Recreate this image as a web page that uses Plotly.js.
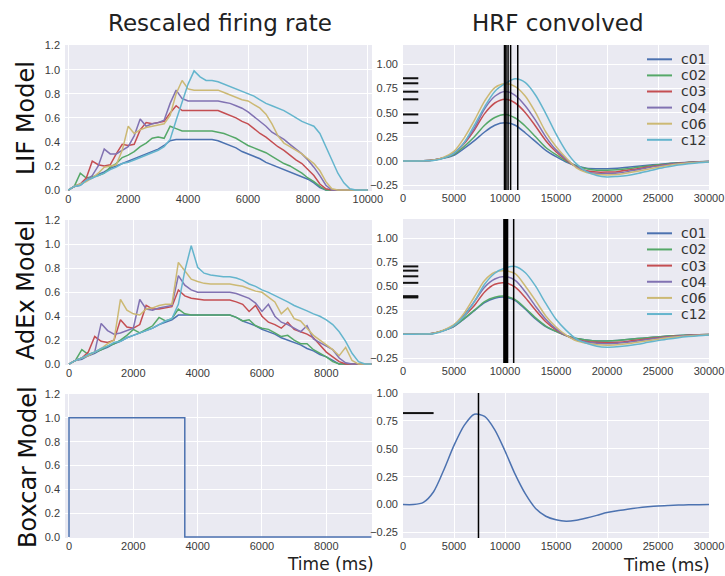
<!DOCTYPE html>
<html>
<head>
<meta charset="utf-8">
<script src="https://cdn.plot.ly/plotly-3.0.1.min.js"></script>
<style>html,body{margin:0;padding:0;background:#fff}#chart{width:725px;height:576px}</style>
</head>
<body>
<div id="chart"></div>
<script>
// ---------------- data ----------------
const seriesNames = ['c01','c02','c03','c04','c06','c12'];
const seriesColors = ['#4C72B0','#55A868','#C44E52','#8172B2','#CCB974','#64B5CD'];

// LIF rescaled firing rate (time in ms)
const lifTime = [0,200,400,600,800,1000,1200,1400,1600,1800,2000,2200,2400,2600,2800,3000,3200,3400,3600,3800,4000,4200,4400,4600,4800,5000,5200,5400,5600,5800,6000,6200,6400,6600,6800,7000,7200,7400,7600,7800,8000,8200,8400,8600,8800,9000,9200,9400,9600,9800,10000];
const lifC01 = [0,0.03,0.04,0.08,0.10,0.13,0.15,0.18,0.20,0.22,0.24,0.26,0.28,0.30,0.32,0.34,0.37,0.41,0.42,0.42,0.42,0.42,0.42,0.42,0.42,0.41,0.39,0.37,0.35,0.32,0.30,0.28,0.26,0.23,0.21,0.19,0.17,0.15,0.13,0.11,0.09,0.06,0.02,0,0,0,0,0,0,0,0];
const lifC02 = [0,0.03,0.14,0.10,0.11,0.12,0.14,0.19,0.22,0.27,0.29,0.32,0.36,0.39,0.43,0.44,0.43,0.53,0.51,0.49,0.49,0.49,0.49,0.49,0.49,0.48,0.47,0.45,0.43,0.40,0.37,0.35,0.33,0.31,0.28,0.25,0.22,0.20,0.17,0.14,0.10,0.07,0.03,0,0,0,0,0,0,0,0];
const lifC03 = [0,0.03,0.05,0.10,0.24,0.21,0.20,0.21,0.30,0.38,0.37,0.38,0.50,0.56,0.55,0.56,0.57,0.64,0.70,0.66,0.66,0.66,0.66,0.66,0.66,0.66,0.64,0.62,0.60,0.57,0.55,0.51,0.47,0.44,0.40,0.36,0.33,0.29,0.25,0.22,0.17,0.12,0.05,0.01,0,0,0,0,0,0,0];
const lifC04 = [0,0.03,0.05,0.08,0.12,0.20,0.34,0.30,0.30,0.33,0.36,0.45,0.59,0.53,0.55,0.56,0.58,0.72,0.83,0.76,0.74,0.74,0.74,0.74,0.74,0.74,0.73,0.72,0.70,0.68,0.65,0.61,0.57,0.53,0.48,0.45,0.42,0.38,0.34,0.30,0.25,0.19,0.12,0.04,0,0,0,0,0,0,0];
const lifC06 = [0,0.03,0.05,0.07,0.10,0.14,0.19,0.20,0.21,0.33,0.53,0.47,0.50,0.52,0.53,0.54,0.55,0.62,0.80,0.91,0.84,0.83,0.83,0.83,0.83,0.83,0.81,0.79,0.77,0.75,0.74,0.71,0.68,0.63,0.55,0.45,0.39,0.36,0.33,0.30,0.26,0.22,0.16,0.07,0.01,0,0,0,0,0,0];
const lifC12 = [0,0.03,0.04,0.08,0.10,0.12,0.14,0.17,0.19,0.22,0.23,0.25,0.27,0.29,0.31,0.33,0.36,0.42,0.58,0.74,0.88,0.99,0.94,0.91,0.91,0.90,0.88,0.86,0.84,0.82,0.80,0.78,0.75,0.72,0.70,0.68,0.66,0.63,0.60,0.57,0.55,0.53,0.47,0.36,0.25,0.14,0.06,0.01,0,0,0];

// AdEx rescaled firing rate
const adexTime = [0,200,400,600,800,1000,1200,1400,1600,1800,2000,2200,2400,2600,2800,3000,3200,3400,3600,3800,4000,4200,4400,4600,4800,5000,5200,5400,5600,5800,6000,6200,6400,6600,6800,7000,7200,7400,7600,7800,8000,8200,8400,8600,8800,9000,9200,9400];
const adexC01 = [0,0.03,0.04,0.07,0.09,0.12,0.14,0.17,0.19,0.22,0.24,0.26,0.28,0.30,0.33,0.35,0.37,0.41,0.41,0.41,0.41,0.41,0.41,0.41,0.41,0.41,0.39,0.36,0.34,0.32,0.29,0.27,0.25,0.22,0.20,0.18,0.16,0.13,0.11,0.08,0.06,0.03,0,0,0,0,0,0];
const adexC02 = [0,0.03,0.12,0.08,0.10,0.12,0.15,0.17,0.20,0.24,0.29,0.26,0.29,0.32,0.39,0.36,0.38,0.46,0.42,0.41,0.41,0.41,0.41,0.41,0.41,0.41,0.39,0.36,0.37,0.32,0.30,0.29,0.26,0.23,0.24,0.20,0.17,0.17,0.12,0.09,0.06,0.02,0,0,0,0,0,0];
const adexC03 = [0,0.03,0.05,0.10,0.23,0.19,0.18,0.20,0.37,0.31,0.30,0.33,0.49,0.46,0.46,0.47,0.48,0.62,0.57,0.55,0.54,0.535,0.535,0.535,0.535,0.535,0.52,0.50,0.44,0.49,0.40,0.35,0.33,0.30,0.35,0.29,0.27,0.25,0.22,0.16,0.10,0.06,0.02,0,0,0,0,0];
const adexC04 = [0,0.03,0.05,0.07,0.10,0.34,0.28,0.25,0.26,0.28,0.30,0.54,0.46,0.45,0.47,0.48,0.49,0.74,0.66,0.62,0.60,0.60,0.60,0.60,0.60,0.60,0.59,0.57,0.55,0.51,0.44,0.50,0.40,0.35,0.33,0.30,0.27,0.32,0.21,0.18,0.15,0.12,0.05,0.01,0,0,0,0];
const adexC06 = [0,0.03,0.05,0.07,0.10,0.13,0.17,0.20,0.54,0.45,0.42,0.41,0.46,0.47,0.49,0.50,0.50,0.85,0.78,0.71,0.69,0.675,0.67,0.67,0.67,0.67,0.66,0.65,0.63,0.61,0.60,0.56,0.52,0.42,0.47,0.38,0.36,0.30,0.24,0.20,0.16,0.12,0.07,0.14,0.03,0,0,0];
const adexC12 = [0,0.03,0.05,0.08,0.10,0.13,0.15,0.18,0.19,0.22,0.24,0.26,0.28,0.30,0.33,0.36,0.38,0.50,0.78,0.99,0.81,0.76,0.745,0.735,0.73,0.73,0.72,0.70,0.67,0.65,0.62,0.60,0.575,0.55,0.52,0.49,0.47,0.445,0.42,0.40,0.37,0.33,0.27,0.19,0.09,0.02,0,0];

// Boxcar model
const boxTime = [0,0,3600,3600,9400];
const boxRate = [0,1,1,0,0];

// HRF-convolved signals
const hrfTime = [0,1000,2000,3000,4000,5000,6000,7000,8000,9000,10000,11000,12000,13000,14000,15000,16000,17000,18000,19000,20000,21000,22000,23000,24000,25000,26000,27000,28000,29000,30000];
const lifHrfC01 = [0,0,0.002,0.01,0.03,0.06,0.13,0.21,0.30,0.37,0.395,0.37,0.29,0.20,0.11,0.045,-0.01,-0.05,-0.075,-0.08,-0.08,-0.075,-0.065,-0.055,-0.045,-0.035,-0.025,-0.018,-0.012,-0.008,-0.005];
const lifHrfC02 = [0,0,0.002,0.01,0.03,0.07,0.15,0.25,0.37,0.45,0.48,0.445,0.36,0.25,0.14,0.065,0,-0.05,-0.08,-0.095,-0.095,-0.09,-0.08,-0.065,-0.052,-0.04,-0.03,-0.02,-0.014,-0.009,-0.005];
const lifHrfC03 = [0,0,0.002,0.01,0.035,0.08,0.18,0.32,0.49,0.60,0.64,0.60,0.50,0.36,0.21,0.095,0.01,-0.06,-0.10,-0.115,-0.115,-0.11,-0.095,-0.08,-0.062,-0.048,-0.035,-0.024,-0.016,-0.01,-0.006];
const lifHrfC04 = [0,0,0.002,0.01,0.035,0.085,0.19,0.34,0.54,0.67,0.72,0.68,0.57,0.42,0.25,0.115,0.02,-0.06,-0.11,-0.13,-0.13,-0.125,-0.11,-0.09,-0.07,-0.053,-0.038,-0.026,-0.017,-0.011,-0.006];
const lifHrfC06 = [0,0,0.002,0.01,0.04,0.10,0.24,0.42,0.62,0.76,0.80,0.77,0.67,0.50,0.30,0.15,0.03,-0.07,-0.12,-0.14,-0.145,-0.14,-0.125,-0.105,-0.085,-0.065,-0.047,-0.032,-0.021,-0.013,-0.007];
const lifHrfC12 = [0,0,0.001,0.005,0.03,0.08,0.19,0.37,0.56,0.72,0.80,0.85,0.81,0.68,0.49,0.28,0.10,-0.03,-0.11,-0.15,-0.165,-0.16,-0.15,-0.13,-0.105,-0.08,-0.06,-0.042,-0.028,-0.017,-0.01];
const lifPeakTime = [9950,10000,10100,10300,10550,11250];
const lifPeakValue = [0.395,0.482,0.638,0.717,0.804,0.856];

const adexHrfC01 = [0,0,0.002,0.01,0.04,0.08,0.16,0.245,0.33,0.375,0.385,0.35,0.26,0.16,0.08,0.03,-0.015,-0.045,-0.06,-0.07,-0.07,-0.065,-0.055,-0.045,-0.037,-0.028,-0.02,-0.014,-0.009,-0.006,-0.003];
const adexHrfC02 = [0,0,0.002,0.01,0.04,0.085,0.165,0.25,0.34,0.385,0.396,0.36,0.27,0.17,0.085,0.03,-0.015,-0.045,-0.06,-0.07,-0.07,-0.066,-0.056,-0.046,-0.037,-0.028,-0.02,-0.014,-0.009,-0.006,-0.003];
const adexHrfC03 = [0,0,0.002,0.01,0.04,0.09,0.19,0.30,0.44,0.52,0.535,0.49,0.38,0.25,0.13,0.045,-0.015,-0.055,-0.075,-0.085,-0.09,-0.085,-0.075,-0.06,-0.048,-0.036,-0.026,-0.018,-0.012,-0.007,-0.004];
const adexHrfC04 = [0,0,0.002,0.01,0.04,0.095,0.20,0.34,0.49,0.575,0.60,0.56,0.44,0.29,0.155,0.055,-0.015,-0.06,-0.085,-0.095,-0.10,-0.095,-0.085,-0.07,-0.055,-0.042,-0.03,-0.021,-0.014,-0.009,-0.005];
const adexHrfC06 = [0,0,0.002,0.01,0.045,0.10,0.22,0.39,0.56,0.645,0.66,0.63,0.50,0.35,0.19,0.075,-0.01,-0.07,-0.095,-0.11,-0.115,-0.11,-0.10,-0.085,-0.068,-0.052,-0.038,-0.027,-0.018,-0.011,-0.006];
const adexHrfC12 = [0,0,0.001,0.005,0.035,0.09,0.19,0.34,0.52,0.635,0.69,0.705,0.64,0.50,0.32,0.155,0.04,-0.05,-0.095,-0.125,-0.135,-0.13,-0.12,-0.105,-0.085,-0.067,-0.05,-0.036,-0.025,-0.016,-0.009];
const adexPeakTime = [9900,9950,10050,10150,10250,10850];
const adexPeakValue = [0.383,0.396,0.535,0.603,0.662,0.706];

const boxHrf = [0,0,0.02,0.115,0.31,0.53,0.71,0.81,0.79,0.67,0.48,0.27,0.095,-0.035,-0.105,-0.137,-0.149,-0.14,-0.12,-0.097,-0.072,-0.055,-0.042,-0.03,-0.02,-0.012,-0.008,-0.005,-0.003,-0.002,0];
const boxPeakTime = [7400];
const boxPeakValue = [0.82];

// tick labels
const lifXTicks = [0,2000,4000,6000,8000,10000];
const adexXTicks = [0,2000,4000,6000,8000];
const rateYTicks = [0,0.2,0.4,0.6,0.8,1.0,1.2];
const hrfXTicks = [0,5000,10000,15000,20000,25000,30000];
const hrfYTicks = [-0.25,0,0.25,0.5,0.75,1.0];

// ---------------- figure ----------------
const W = 725, H = 576;
const px = v => v / W;
const py = v => 1 - v / H;

const traces = [];
function addLines(times, seriesList, xa, ya, colors, shape) {
  seriesList.forEach((vals, i) => {
    traces.push({
      type: 'scatter', mode: 'lines', x: times, y: vals,
      xaxis: xa, yaxis: ya, name: seriesNames[i], showlegend: false,
      line: {color: colors[i], width: 1.5, shape: shape || 'linear', smoothing: 0.8},
      hoverinfo: 'skip'
    });
  });
}
addLines(lifTime, [lifC01, lifC02, lifC03, lifC04, lifC06, lifC12], 'x', 'y', seriesColors);
addLines(hrfTime, [lifHrfC01, lifHrfC02, lifHrfC03, lifHrfC04, lifHrfC06, lifHrfC12], 'x2', 'y2', seriesColors, 'spline');
addLines(adexTime, [adexC01, adexC02, adexC03, adexC04, adexC06, adexC12], 'x3', 'y3', seriesColors);
addLines(hrfTime, [adexHrfC01, adexHrfC02, adexHrfC03, adexHrfC04, adexHrfC06, adexHrfC12], 'x4', 'y4', seriesColors, 'spline');
addLines(boxTime, [boxRate], 'x5', 'y5', [seriesColors[0]]);
addLines(hrfTime, [boxHrf], 'x6', 'y6', [seriesColors[0]], 'spline');

const tickFont = {family: 'Liberation Sans, Arial, sans-serif', size: 11, color: '#3a3a3a'};
function ax(extra) {
  return Object.assign({
    showgrid: true, gridcolor: '#ffffff', gridwidth: 1, zeroline: false, showline: false,
    ticks: '', tickfont: tickFont, fixedrange: true
  }, extra);
}
function xax(extra) { return ax(Object.assign({tickformat: 'd', ticklabelstandoff: 0}, extra)); }
function yax(extra) { return ax(Object.assign({ticklabelstandoff: 4}, extra)); }
const leftX = [px(65), px(372)];
const rightX = [px(403), px(709)];

const layout = {
  width: W, height: H,
  margin: {l: 0, r: 0, t: 0, b: 0},
  paper_bgcolor: '#ffffff', plot_bgcolor: '#EAEAF2',
  showlegend: false,
  separators: '.,',
  xaxis:  xax({domain: leftX,  range: [-110, 10140], tickvals: lifXTicks, anchor: 'y'}),
  yaxis:  yax({domain: [py(191), py(45)], range: [-0.008, 1.205], tickvals: rateYTicks, tickformat: '.1f', anchor: 'x'}),
  xaxis2: xax({domain: rightX, range: [0, 30000], tickvals: hrfXTicks, anchor: 'y2'}),
  yaxis2: yax({domain: [py(190), py(45)], range: [-0.3, 1.2], tickvals: hrfYTicks, tickformat: '.2f', anchor: 'x2'}),
  xaxis3: xax({domain: leftX,  range: [-124, 9420], tickvals: adexXTicks, anchor: 'y3'}),
  yaxis3: yax({domain: [py(365), py(220)], range: [-0.008, 1.205], tickvals: rateYTicks, tickformat: '.1f', anchor: 'x3'}),
  xaxis4: xax({domain: rightX, range: [0, 30000], tickvals: hrfXTicks, anchor: 'y4'}),
  yaxis4: yax({domain: [py(363), py(219)], range: [-0.3, 1.2], tickvals: hrfYTicks, tickformat: '.2f', anchor: 'x4'}),
  xaxis5: xax({domain: leftX,  range: [-124, 9420], tickvals: adexXTicks, anchor: 'y5'}),
  yaxis5: yax({domain: [py(538), py(394)], range: [-0.008, 1.2], tickvals: rateYTicks, tickformat: '.1f', anchor: 'x5'}),
  xaxis6: xax({domain: rightX, range: [0, 30000], tickvals: hrfXTicks, anchor: 'y6'}),
  yaxis6: yax({domain: [py(538), py(393)], range: [-0.3, 1.0], tickvals: hrfYTicks, tickformat: '.2f', anchor: 'x6'}),
  shapes: [],
  annotations: []
};

// peak markers: vertical lines at peak time, short horizontal lines at peak value
function addPeaks(times, values, xa, ya, frac) {
  times.forEach(t => layout.shapes.push({
    type: 'line', xref: xa, yref: ya + ' domain', x0: t, x1: t, y0: 0, y1: 1,
    line: {color: '#000000', width: 1.5}
  }));
  values.forEach(v => layout.shapes.push({
    type: 'line', xref: xa + ' domain', yref: ya, x0: 0, x1: frac, y0: v, y1: v,
    line: {color: '#111111', width: 2}
  }));
}
addPeaks(lifPeakTime, lifPeakValue, 'x2', 'y2', 0.05);
addPeaks(adexPeakTime, adexPeakValue, 'x4', 'y4', 0.05);
addPeaks(boxPeakTime, boxPeakValue, 'x6', 'y6', 0.1);

// legends drawn inside the HRF panels
function addLegend(topPx, stepPx) {
  seriesNames.forEach((name, i) => {
    const y = py(topPx + stepPx * i);
    layout.shapes.push({type: 'line', xref: 'paper', yref: 'paper', x0: px(647), x1: px(672), y0: y, y1: y,
      line: {color: seriesColors[i], width: 2}});
    layout.annotations.push({xref: 'paper', yref: 'paper', x: px(679), y: y, xanchor: 'left', yanchor: 'middle',
      text: name, showarrow: false, font: {family: 'DejaVu Sans, sans-serif', size: 14, color: '#333333'}});
  });
}
addLegend(59.3, 16.1);
addLegend(233.3, 16.15);

const titleFont = {family: 'DejaVu Sans, sans-serif', size: 23, color: '#222222'};
const rowFont = {family: 'DejaVu Sans, sans-serif', size: 24, color: '#111111'};
const timeFont = {family: 'DejaVu Sans, sans-serif', size: 17, color: '#222222'};
layout.annotations.push(
  {xref: 'paper', yref: 'paper', x: px(220), y: py(23), text: 'Rescaled firing rate', showarrow: false, xanchor: 'center', yanchor: 'middle', font: titleFont},
  {xref: 'paper', yref: 'paper', x: px(558), y: py(23), text: 'HRF convolved', showarrow: false, xanchor: 'center', yanchor: 'middle', font: titleFont},
  {xref: 'paper', yref: 'paper', x: px(26), y: py(118), text: 'LIF Model', textangle: -90, showarrow: false, xanchor: 'center', yanchor: 'middle', font: rowFont},
  {xref: 'paper', yref: 'paper', x: px(26), y: py(290), text: 'AdEx Model', textangle: -90, showarrow: false, xanchor: 'center', yanchor: 'middle', font: rowFont},
  {xref: 'paper', yref: 'paper', x: px(28), y: py(467), text: 'Boxcar Model', textangle: -90, showarrow: false, xanchor: 'center', yanchor: 'middle', font: rowFont},
  {xref: 'paper', yref: 'paper', x: px(330), y: py(564), text: 'Time (ms)', showarrow: false, xanchor: 'center', yanchor: 'middle', font: timeFont},
  {xref: 'paper', yref: 'paper', x: px(666), y: py(565), text: 'Time (ms)', showarrow: false, xanchor: 'center', yanchor: 'middle', font: timeFont}
);

Plotly.newPlot('chart', traces, layout, {staticPlot: true, displayModeBar: false});
</script>
</body>
</html>
